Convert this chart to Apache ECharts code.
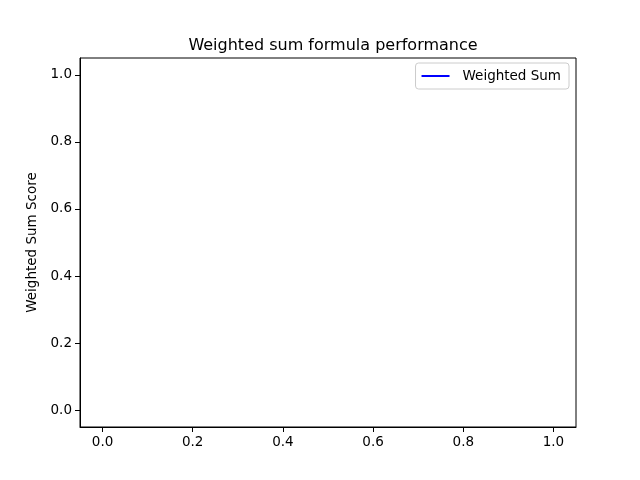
<!DOCTYPE html>
<html>
<head>
<meta charset="utf-8">
<script src="https://cdn.jsdelivr.net/npm/echarts@6/dist/echarts.min.js"></script>
<style>html,body{margin:0;padding:0;background:#fff}#chart{width:640px;height:480px}</style>
</head>
<body>
<div id="chart"></div>
<script>
// The reference plot has no data points, only the legend entry
const xValues = [];
const weightedSum = [];
const tickValues = [0, 0.2, 0.4, 0.6, 0.8, 1.0];

const chart = echarts.init(document.getElementById('chart'));
const fontFamily = 'DejaVu Sans';

function axis(extra) {
  return Object.assign({
    type: 'value',
    min: -0.05,
    max: 1.05,
    axisLine: { show: true, onZero: false, lineStyle: { color: '#000' } },
    axisTick: { show: true, customValues: tickValues, length: 5, inside: false, lineStyle: { color: '#000' } },
    axisLabel: {
      customValues: tickValues,
      formatter: v => v.toFixed(1),
      color: '#000',
      fontFamily: fontFamily,
      fontSize: 13.5
    },
    splitLine: { show: false }
  }, extra);
}

chart.setOption({
  animation: false,
  title: {
    text: 'Weighted sum formula performance',
    left: 328,
    top: 33,
    textAlign: 'center',
    textStyle: { fontFamily: fontFamily, fontSize: 16, fontWeight: 'normal', color: '#000' }
  },
  grid: {
    left: 80, right: 64, top: 58, bottom: 53,
    show: true, borderColor: '#000', borderWidth: 1
  },
  legend: {
    right: 71, top: 63,
    padding: [6, 8, 6, 6],
    icon: 'rect',
    itemWidth: 28,
    itemHeight: 2,
    backgroundColor: '#fff',
    borderColor: '#ccc',
    borderWidth: 1,
    borderRadius: 3,
    textStyle: { fontFamily: fontFamily, fontSize: 13.5, color: '#000', padding: [0, 0, 0, 8] },
    data: ['Weighted Sum']
  },
  xAxis: axis({}),
  yAxis: axis({
    name: 'Weighted Sum Score',
    nameLocation: 'middle',
    nameGap: 40,
    nameTextStyle: { fontFamily: fontFamily, fontSize: 13.5, color: '#000' }
  }),
  series: [{
    name: 'Weighted Sum',
    type: 'line',
    symbol: 'none',
    lineStyle: { color: '#0000ff', width: 1.5 },
    itemStyle: { color: '#0000ff' },
    data: xValues.map((x, i) => [x, weightedSum[i]])
  }]
});
</script>
</body>
</html>
